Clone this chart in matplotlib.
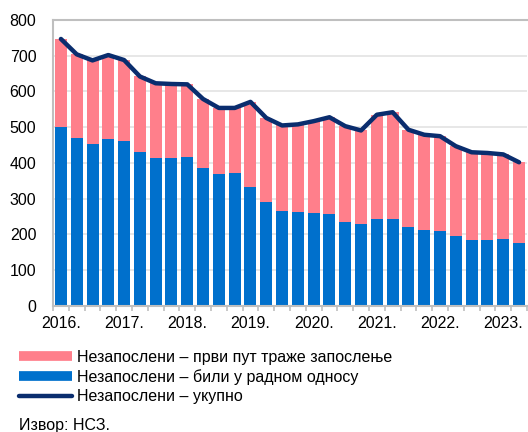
import matplotlib
matplotlib.use('Agg')
import matplotlib.pyplot as plt
from matplotlib.lines import Line2D
import numpy as np

plt.rcParams['font.family'] = ['Liberation Sans', 'DejaVu Sans']

# quarterly data, 2016 Q1 - 2023 Q2 (thousands)
years = ['2016.', '2017.', '2018.', '2019.', '2020.', '2021.', '2022.', '2023.']
total = [747, 704, 687, 702, 688, 642, 623, 621, 620, 579, 554, 554, 571, 526, 505,
         508, 517, 528, 503, 491, 535, 542, 493, 479, 475, 447, 430, 428, 424, 402]
employed_before = [500, 469, 454, 467, 461, 430, 414, 414, 416, 386, 369, 371, 332, 291, 266,
                   263, 260, 256, 236, 228, 243, 243, 221, 213, 210, 195, 185, 185, 188, 176]
first_job = [t - b for t, b in zip(total, employed_before)]

label_first = 'Незапослени – први пут траже запослење'
label_before = 'Незапослени – били у радном односу'
label_total = 'Незапослени – укупно'

c_pink = '#FF7F8B'
c_blue = '#0070CC'
c_navy = '#0A2D6E'
c_grey = '#BFBFBF'
fs = 11.5

fig = plt.figure(figsize=(5.28, 4.32), dpi=100)
ax = fig.add_axes([0.1004, 0.2917, 0.8976, 0.662])

x = np.arange(len(total))
ax.bar(x, employed_before, width=0.76, color=c_blue, zorder=2)
ax.bar(x, first_job, width=0.76, bottom=employed_before, color=c_pink, zorder=2)
ax.plot(x, total, color=c_navy, linewidth=3.2, solid_capstyle='round',
        solid_joinstyle='round', zorder=3)

ax.set_xlim(-0.5, len(total) - 0.5)
ax.set_ylim(0, 800)
ax.set_yticks(range(0, 801, 100))
ax.grid(axis='y', color='#E3E3E3', linewidth=1.2, zorder=0)
ax.set_axisbelow(True)

ax.set_xticks(np.arange(0, len(total), 4))
ax.set_xticklabels(years)
ax.set_xticks(np.arange(-0.5, len(total), 1), minor=True)
ax.tick_params(axis='x', which='major', length=0, pad=7, labelsize=fs)
ax.tick_params(axis='x', which='minor', length=3.5, color=c_grey, width=1.2)
ax.tick_params(axis='y', length=0, pad=12, labelsize=fs)

for side in ['left', 'bottom', 'top']:
    ax.spines[side].set_color(c_grey)
    ax.spines[side].set_linewidth(1.5)
ax.spines['right'].set_visible(False)

handles = [
    Line2D([0], [0], color=c_pink, linewidth=7, solid_capstyle='butt'),
    Line2D([0], [0], color=c_blue, linewidth=7, solid_capstyle='butt'),
    Line2D([0], [0], color=c_navy, linewidth=3.2, solid_capstyle='round'),
]
fig.legend(handles, [label_first, label_before, label_total],
           loc='upper left', bbox_to_anchor=(0.036, 0.19), frameon=False,
           fontsize=fs, handlelength=3.3, handletextpad=0.35, labelspacing=0.27,
           borderpad=0, borderaxespad=0)

fig.text(0.036, 0.005, 'Извор: НСЗ.', fontsize=fs)

fig.savefig('out.png', dpi=100)
